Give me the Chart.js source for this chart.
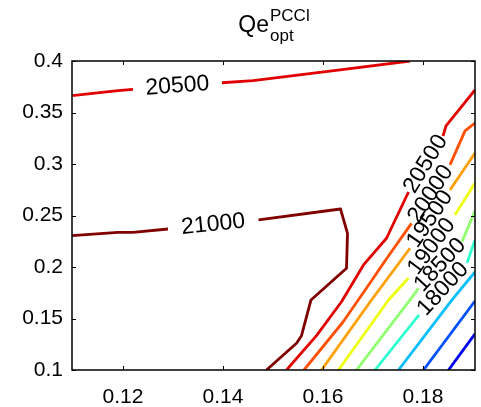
<!DOCTYPE html>
<html>
<head>
<meta charset="utf-8">
<script src="https://cdn.jsdelivr.net/npm/chart.js@4.4.0/dist/chart.umd.min.js"></script>
<style>
  body { margin: 0; background: #fff; }
</style>
</head>
<body>
<canvas id="chart" width="481" height="407"></canvas>
<script>
// axis ticks and ranges
const xTicks = [0.12, 0.14, 0.16, 0.18];
const yTicks = [0.1, 0.15, 0.2, 0.25, 0.3, 0.35, 0.4];
const xRange = [0.1098, 0.1904];
const yRange = [0.1, 0.4];

// contour lines (null = gap for the inline label)
const x21000 = [0.1098, 0.1190, 0.1220, 0.1290, null, 0.1471, 0.1635, 0.1649, 0.1647, 0.1576, 0.1557, 0.1547, 0.1487];
const y21000 = [0.2304, 0.2337, 0.2337, 0.2369, null, 0.2457, 0.2563, 0.2327, 0.1988, 0.1680, 0.1333, 0.1259, 0.1000];
const x20500a = [0.1098, 0.1190, 0.1220, null, 0.1398, 0.1460, 0.1634, 0.1774];
const y20500a = [0.3663, 0.3712, 0.3725, null, 0.3789, 0.3809, 0.3913, 0.4000];
const x20500b = [0.1527, 0.1587, 0.1637, 0.1681, 0.1727, 0.1771, null, 0.1840, 0.1846, 0.1904];
const y20500b = [0.1000, 0.1333, 0.1663, 0.2020, 0.2279, 0.2728, null, 0.3272, 0.3369, 0.3719];
const x20000 = [0.1562, 0.1640, 0.1694, 0.1728, 0.1777, null, 0.1854, 0.1884, 0.1904];
const y20000 = [0.1000, 0.1466, 0.1845, 0.2088, 0.2424, null, 0.2991, 0.3321, 0.3398];
const x19500 = [0.1597, 0.1697, 0.1774, null, 0.1854, 0.1904];
const y19500 = [0.1000, 0.1680, 0.2182, null, 0.2748, 0.3107];
const x19000 = [0.1631, 0.1731, 0.1771, null, 0.1864, 0.1904];
const y19000 = [0.1000, 0.1680, 0.1893, null, 0.2505, 0.2816];
const x18500 = [0.1667, 0.1774, 0.1791, null, 0.1878, 0.1904];
const y18500 = [0.1000, 0.1680, 0.1793, null, 0.2246, 0.2544];
const x18000 = [0.1704, 0.1792, null, 0.1888, 0.1904];
const y18000 = [0.1000, 0.1534, null, 0.2039, 0.2262];
const x17500 = [0.1751, 0.1858, 0.1904];
const y17500 = [0.1000, 0.1680, 0.1952];
const x17000 = [0.1801, 0.1904];
const y17000 = [0.1000, 0.1670];
const x16500 = [0.1851, 0.1904];
const y16500 = [0.1000, 0.1350];

const levels = [21000, 20500, 20500, 20000, 19500, 19000, 18500, 18000, 17500, 17000, 16500];
const lineXs = [x21000, x20500a, x20500b, x20000, x19500, x19000, x18500, x18000, x17500, x17000, x16500];
const lineYs = [y21000, y20500a, y20500b, y20000, y19500, y19000, y18500, y18000, y17500, y17000, y16500];

// jet-like colours per level
const levelColors = {
  21000: '#800000', 20500: '#e00000', 20000: '#ff5000', 19500: '#ffa000',
  19000: '#efff10', 18500: '#90ff70', 18000: '#30ffd0', 17500: '#00bfff',
  17000: '#0050ff', 16500: '#0000ef'
};

const FONT = '"Liberation Sans", Arial, Helvetica, sans-serif';

function toPoints(xs, ys) {
  return xs.map((x, i) => ({ x: x, y: ys[i] }));
}

const datasets = levels.map((lv, i) => ({
  label: String(lv),
  data: toPoints(lineXs[i], lineYs[i]),
  showLine: true,
  borderColor: levelColors[lv],
  backgroundColor: levelColors[lv],
  borderWidth: 2.8,
  borderJoinStyle: 'round',
  pointRadius: 0,
  spanGaps: false
}));

// box, inward ticks, contour labels and the title
const decorations = {
  id: 'decorations',
  afterDatasetsDraw(chart) {
    const ctx = chart.ctx;
    const a = chart.chartArea;
    const xs = chart.scales.x, ys = chart.scales.y;
    ctx.save();

    // contour labels sit in the gap of each line
    ctx.fillStyle = '#000';
    ctx.font = '23px ' + FONT;
    ctx.textAlign = 'center';
    ctx.textBaseline = 'middle';
    chart.data.datasets.forEach(ds => {
      const pts = ds.data;
      const g = pts.findIndex(p => p.y === null);
      if (g < 1) return;
      const p0 = pts[g - 1], p1 = pts[g + 1];
      const ax = xs.getPixelForValue(p0.x), ay = ys.getPixelForValue(p0.y);
      const bx = xs.getPixelForValue(p1.x), by = ys.getPixelForValue(p1.y);
      let ang = Math.atan2(by - ay, bx - ax);
      if (ang > Math.PI / 2) ang -= Math.PI;
      if (ang < -Math.PI / 2) ang += Math.PI;
      ctx.save();
      ctx.translate((ax + bx) / 2, (ay + by) / 2);
      ctx.rotate(ang);
      ctx.fillText(ds.label, 0, 0);
      ctx.restore();
    });

    // axes box
    ctx.strokeStyle = '#000';
    ctx.lineWidth = 1.5;
    ctx.strokeRect(a.left, a.top, a.right - a.left, a.bottom - a.top);

    // inward tick marks on all four sides
    ctx.lineWidth = 1;
    const len = 4;
    ctx.beginPath();
    xs.ticks.forEach(t => {
      const px = Math.round(xs.getPixelForValue(t.value)) + 0.5;
      ctx.moveTo(px, a.bottom); ctx.lineTo(px, a.bottom - len);
      ctx.moveTo(px, a.top); ctx.lineTo(px, a.top + len);
    });
    ys.ticks.forEach(t => {
      const py = Math.round(ys.getPixelForValue(t.value)) + 0.5;
      ctx.moveTo(a.left, py); ctx.lineTo(a.left + len, py);
      ctx.moveTo(a.right, py); ctx.lineTo(a.right - len, py);
    });
    ctx.stroke();

    // title Qe^PCCl_opt
    const cx = (a.left + a.right) / 2;
    ctx.textAlign = 'left';
    ctx.textBaseline = 'alphabetic';
    ctx.font = '23px ' + FONT;
    const wMain = ctx.measureText('Qe').width;
    ctx.font = '17px ' + FONT;
    const wSup = ctx.measureText('PCCl').width;
    const wSub = ctx.measureText('opt').width;
    const x0 = cx - (wMain + Math.max(wSup, wSub)) / 2;
    ctx.font = '23px ' + FONT;
    ctx.fillText('Qe', x0, 32);
    ctx.font = '17px ' + FONT;
    ctx.fillText('PCCl', x0 + wMain + 1, 21);
    ctx.fillText('opt', x0 + wMain + 1, 41);
    ctx.restore();
  }
};

new Chart(document.getElementById('chart'), {
  type: 'scatter',
  data: { datasets: datasets },
  options: {
    responsive: false,
    animation: false,
    layout: { padding: { top: 61, right: 6, left: 0, bottom: 0 } },
    plugins: { legend: { display: false }, tooltip: { enabled: false }, title: { display: false } },
    scales: {
      x: {
        type: 'linear',
        min: xRange[0], max: xRange[1],
        afterBuildTicks: s => { s.ticks = xTicks.map(v => ({ value: v })); },
        afterFit: s => { s.height = 37; },
        grid: { display: false, drawTicks: false },
        border: { display: false },
        ticks: { color: '#000', font: { family: FONT, size: 21 }, padding: 15, maxRotation: 0,
                 callback: v => String(v) }
      },
      y: {
        type: 'linear',
        min: yRange[0], max: yRange[1],
        afterBuildTicks: s => { s.ticks = yTicks.map(v => ({ value: v })); },
        afterFit: s => { s.width = 72; },
        grid: { display: false, drawTicks: false },
        border: { display: false },
        ticks: { color: '#000', font: { family: FONT, size: 21 }, padding: 9,
                 callback: v => String(v) }
      }
    }
  },
  plugins: [decorations]
});
</script>
</body>
</html>
